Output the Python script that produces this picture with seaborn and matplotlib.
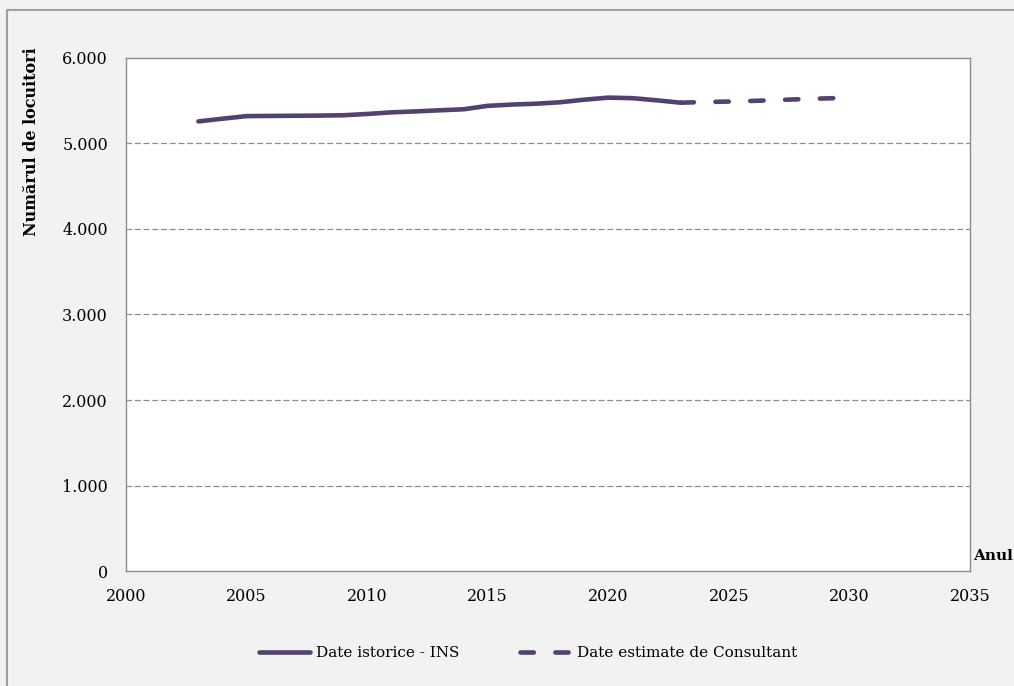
import pandas as pd
import seaborn as sns
import matplotlib.pyplot as plt
from matplotlib.lines import Line2D
from matplotlib.ticker import FuncFormatter

# Historical data (INS) and consultant estimates
years_hist = [2003, 2004, 2005, 2006, 2007, 2008, 2009, 2010, 2011, 2012, 2013,
              2014, 2015, 2016, 2017, 2018, 2019, 2020, 2021, 2022, 2023]
pop_hist = [5258, 5290, 5320, 5322, 5324, 5326, 5330, 5345, 5364, 5375, 5388,
            5400, 5440, 5455, 5465, 5482, 5512, 5536, 5530, 5505, 5477]
years_est = [2023, 2024, 2025, 2026, 2027, 2028, 2029, 2030]
pop_est = [5477, 5485, 5490, 5498, 5508, 5518, 5527, 5535]

lbl_hist = "Date istorice - INS"
lbl_est = "Date estimate de Consultant"

df = pd.concat([
    pd.DataFrame({"An": years_hist, "Locuitori": pop_hist, "Serie": lbl_hist}),
    pd.DataFrame({"An": years_est, "Locuitori": pop_est, "Serie": lbl_est}),
])

sns.set_theme(style="white")
plt.rcParams["font.family"] = ["DejaVu Serif"]
plt.rcParams["text.color"] = "black"
plt.rcParams["axes.labelcolor"] = "black"
plt.rcParams["lines.dash_capstyle"] = "round"
plt.rcParams["lines.solid_capstyle"] = "round"

line_color = "#53416f"
fig = plt.figure(figsize=(10.14, 6.86), dpi=100, facecolor="#f2f2f2")
# outer chart border (only top and left visible, image is cropped)
fig.add_artist(Line2D([7 / 1014, 1], [1 - 10 / 686, 1 - 10 / 686], transform=fig.transFigure,
                      color="#a0a0a0", linewidth=1.5))
fig.add_artist(Line2D([7 / 1014, 7 / 1014], [0, 1 - 10 / 686], transform=fig.transFigure,
                      color="#a0a0a0", linewidth=1.5))
ax = fig.add_axes([0.1243, 0.1676, 0.8323, 0.7479])

sns.lineplot(data=df, x="An", y="Locuitori", hue="Serie", style="Serie",
             palette={lbl_hist: line_color, lbl_est: line_color},
             dashes={lbl_hist: "", lbl_est: (2.9, 4.7)},
             linewidth=3.3, ax=ax, legend=True)

ax.set_xlim(2000, 2035)
ax.set_ylim(0, 6000)
ax.set_xticks(range(2000, 2036, 5))
ax.set_yticks(range(0, 6001, 1000))
ax.yaxis.set_major_formatter(FuncFormatter(lambda v, p: f"{int(v):,}".replace(",", ".")))
for y in range(1000, 6000, 1000):
    ax.axhline(y, color="#8c8c8c", linestyle=(0, (4, 3)), linewidth=0.9, zorder=0)

for s in ax.spines.values():
    s.set_color("#8c8c8c")
    s.set_linewidth(1)
ax.tick_params(axis="both", which="major", direction="out", length=5, width=1,
               color="#8c8c8c", labelsize=11.5, labelcolor="black")
ax.tick_params(axis="y", pad=8)
ax.tick_params(axis="x", pad=7)
ax.set_xlabel("")
ax.set_ylabel("Numărul de locuitori", fontsize=11.5, fontweight="bold")
ax.yaxis.set_label_coords(-0.102, 0.836)
fig.text(973 / 1014, 1 - 556 / 686, "Anul", fontsize=11, fontweight="bold",
         ha="left", va="center")

handles, labels = ax.get_legend_handles_labels()
ax.get_legend().remove()
fig.legend(handles, labels, loc="center", bbox_to_anchor=(528 / 1014, 1 - 653 / 686),
           ncol=2, frameon=False, fontsize=11, handlelength=3.3, handletextpad=0.4,
           columnspacing=4.0)

fig.savefig("out.png", dpi=100, facecolor=fig.get_facecolor())
